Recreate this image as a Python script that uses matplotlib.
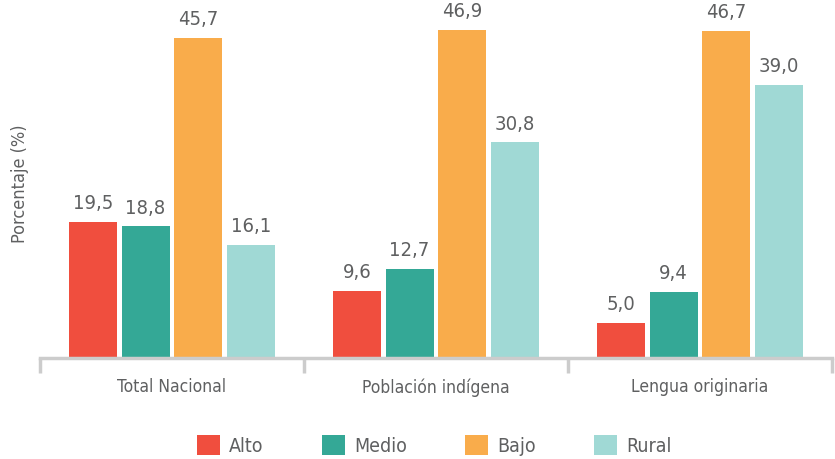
import matplotlib
matplotlib.use("Agg")
import matplotlib.pyplot as plt
import numpy as np
from matplotlib.patches import Patch

categories = ["Total Nacional", "Población indígena", "Lengua originaria"]
series = ["Alto", "Medio", "Bajo", "Rural"]
alto = [19.5, 9.6, 5.0]
medio = [18.8, 12.7, 9.4]
bajo = [45.7, 46.9, 46.7]
rural = [16.1, 30.8, 39.0]
values = [alto, medio, bajo, rural]
colors = ["#F04E3E", "#34A896", "#F9AC4B", "#A0D9D5"]

plt.rcParams['font.family'] = ['DejaVu Sans']
plt.rcParams['font.stretch'] = 'condensed'
text_color = "#5f6061"

fig = plt.figure(figsize=(8.35, 4.6), dpi=100)
ax = fig.add_axes([40/835, 101/460, 792/835, 350/460])

x = np.arange(len(categories))
pitch = 0.2
width = 0.182
for i, (vals, col) in enumerate(zip(values, colors)):
    pos = x + (i - 1.5) * pitch
    bars = ax.bar(pos, vals, width=width, color=col)
    for b, v in zip(bars, vals):
        ax.text(b.get_x() + b.get_width()/2, v + 1.4, f"{v:.1f}".replace(".", ","),
                ha="center", va="bottom", fontsize=14.5, color=text_color)

ax.set_xlim(-0.5, 2.5)
ax.set_ylim(0, 50)
for s in ["top", "right", "left"]:
    ax.spines[s].set_visible(False)
ax.spines["bottom"].set_color("#cccccc")
ax.spines["bottom"].set_linewidth(2.5)
ax.set_yticks([])
ax.set_xticks([-0.5, 0.5, 1.5, 2.5])
ax.set_xticklabels([])
ax.tick_params(axis="x", which="major", length=11, width=2.5, color="#cccccc")
ax.set_xticks(x, minor=True)
ax.set_xticklabels(categories, minor=True, fontsize=12.5, color=text_color)
ax.tick_params(axis="x", which="minor", length=0, pad=14)
ax.set_ylabel("Porcentaje (%)", fontsize=13, color=text_color, labelpad=8)

handles = [Patch(facecolor=c, edgecolor="none") for c in colors]
fig.legend(handles, series, loc="center", bbox_to_anchor=(0.52, 14/460), ncol=4,
           frameon=False, fontsize=14, handlelength=1.2, handleheight=1.2,
           columnspacing=3.0, handletextpad=0.45, labelcolor=text_color)

fig.savefig("out.png", dpi=100)
